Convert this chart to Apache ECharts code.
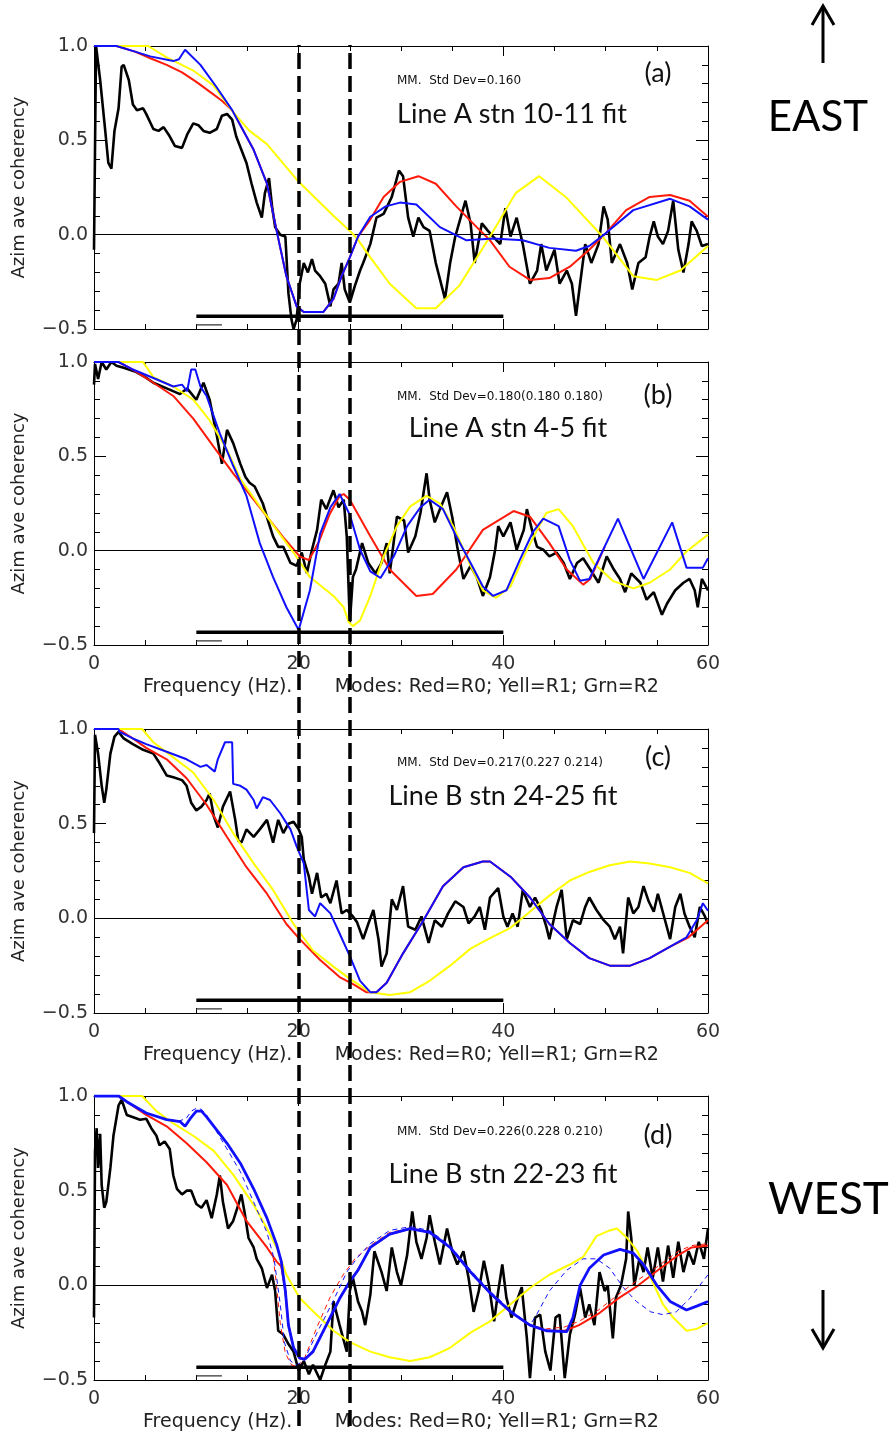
<!DOCTYPE html>
<html><head><meta charset="utf-8">
<script src="https://cdn.jsdelivr.net/npm/echarts@6/dist/echarts.min.js"></script>
<style>html,body{margin:0;padding:0;background:#fff}#c{width:891px;height:1431px}</style>
</head><body><div id="c"></div>
<script>
// ---------- DATA (frequency Hz, azimuthal average coherency) ----------
const xTicks = [0, 20, 40, 60];
const yTicks = [-0.5, 0, 0.5, 1.0];
const markerFreqs = [20, 25];
const refBarX = [10, 40];
const refBarY = -0.432;
const refShortX = [10, 12.5];
const refShortY = -0.478;

const panelTags = ['(a)', '(b)', '(c)', '(d)'];
const panelTitles = ['Line A stn 10-11 fit', 'Line A stn 4-5 fit', 'Line B stn 24-25 fit', 'Line B stn 22-23 fit'];
const panelStats = ['MM.  Std Dev=0.160', 'MM.  Std Dev=0.180(0.180 0.180)', 'MM.  Std Dev=0.217(0.227 0.214)', 'MM.  Std Dev=0.226(0.228 0.210)'];
const xAxisTitle = 'Frequency (Hz).       Modes: Red=R0; Yell=R1; Grn=R2';
const yAxisTitle = 'Azim ave coherency';

// Panel (a)
const aBlack = [[0,-0.08],[0.2,1.0],[0.35,1.0],[0.6,0.82],[1.1,0.55],[1.4,0.38],[1.7,0.35],[2.0,0.55],[2.4,0.67],[2.7,0.89],[2.9,0.90],[3.4,0.82],[3.8,0.69],[4.2,0.66],[4.8,0.67],[5.1,0.64],[5.8,0.56],[6.3,0.55],[6.8,0.57],[7.3,0.53],[7.9,0.47],[8.6,0.46],[9.1,0.53],[9.7,0.59],[10.2,0.58],[10.7,0.55],[11.3,0.54],[12.0,0.56],[12.5,0.63],[13.0,0.64],[13.5,0.61],[13.9,0.52],[14.4,0.45],[14.9,0.38],[15.4,0.27],[15.9,0.17],[16.4,0.09],[16.7,0.22],[17.1,0.30],[17.4,0.15],[17.7,0.04],[18.2,0.0],[18.7,-0.01],[19.0,-0.31],[19.3,-0.45],[19.5,-0.50],[19.8,-0.45],[20.1,-0.26],[20.5,-0.15],[20.9,-0.20],[21.3,-0.13],[21.6,-0.19],[22.1,-0.22],[22.6,-0.26],[23.1,-0.38],[23.4,-0.29],[23.9,-0.26],[24.2,-0.15],[24.5,-0.29],[25.0,-0.36],[25.5,-0.27],[26.0,-0.19],[26.3,-0.15],[27.0,-0.05],[27.6,0.09],[28.3,0.11],[29.1,0.20],[29.8,0.34],[30.2,0.31],[30.7,0.09],[31.2,-0.01],[31.7,0.09],[32.2,0.04],[32.8,0.02],[33.4,-0.15],[34.3,-0.34],[34.8,-0.15],[35.3,-0.01],[36.3,0.18],[36.8,0.06],[37.2,-0.15],[37.9,0.06],[38.5,0.02],[39.0,-0.01],[39.7,-0.05],[40.2,0.14],[40.7,-0.01],[41.3,0.09],[41.9,-0.05],[42.6,-0.26],[43.3,-0.19],[43.7,-0.05],[44.2,-0.19],[45.0,-0.08],[45.5,-0.26],[46.2,-0.19],[46.7,-0.26],[47.1,-0.43],[47.5,-0.26],[48.0,-0.05],[48.6,-0.15],[49.3,-0.05],[49.8,0.15],[50.2,0.08],[50.6,-0.15],[51.4,-0.05],[52.1,-0.15],[52.6,-0.29],[53.2,-0.15],[53.9,-0.12],[54.3,-0.01],[54.7,0.07],[55.1,-0.01],[55.6,-0.05],[56.1,0.02],[56.6,0.18],[57.1,-0.08],[57.6,-0.20],[58.1,-0.05],[58.4,0.07],[58.9,0.02],[59.4,-0.06],[60,-0.05]];
const aRed = [[0,1],[2.2,1],[4,0.97],[5.5,0.935],[7.1,0.90],[8.6,0.86],[10,0.81],[11.5,0.75],[12.5,0.71],[13.5,0.66],[14.5,0.56],[15.6,0.45],[16.9,0.27],[17.85,0.02],[18.8,-0.22],[19.8,-0.38],[20.5,-0.41],[22.4,-0.41],[23.4,-0.34],[24.2,-0.22],[25.0,-0.12],[25.8,-0.01],[27,0.08],[28.3,0.20],[29.9,0.28],[31.7,0.31],[33.4,0.27],[35.4,0.15],[37.4,0.04],[38.7,-0.03],[40.6,-0.17],[42.6,-0.24],[44.5,-0.23],[46.5,-0.17],[48.4,-0.08],[50,0.007],[52,0.13],[54.3,0.20],[56.3,0.21],[58.2,0.18],[60,0.095]];
const aYellow = [[0,1],[5.3,1],[7.1,0.94],[9.7,0.87],[11.7,0.79],[13.6,0.65],[15.2,0.55],[16.9,0.48],[20,0.28],[23.4,0.10],[25,0.02],[25.7,-0.02],[27,-0.12],[28.9,-0.26],[31.5,-0.39],[33.4,-0.39],[35.7,-0.27],[38.7,-0.01],[41.2,0.22],[43.5,0.31],[46.1,0.20],[49.7,-0.01],[52.7,-0.22],[55,-0.24],[57.3,-0.19],[60,-0.06]];
const aBlue = [[0,1.0],[2.2,1.0],[4,0.97],[5.5,0.945],[7.75,0.92],[8.3,0.93],[8.9,0.98],[10.4,0.90],[12,0.78],[13.5,0.66],[14.5,0.56],[15.6,0.45],[16.9,0.27],[17.85,0.02],[18.8,-0.22],[19.8,-0.38],[20.5,-0.41],[22.4,-0.41],[23.4,-0.34],[24.2,-0.22],[25.0,-0.12],[25.8,-0.01],[27,0.095],[28.5,0.15],[29.9,0.17],[31.5,0.16],[33.8,0.04],[36.4,-0.03],[39,-0.02],[41.9,-0.03],[44.5,-0.07],[47.1,-0.085],[48.4,-0.06],[50,0.007],[52.7,0.13],[56.3,0.19],[58.2,0.15],[60,0.08]];

// Panel (b)
const bBlack = [[0,0.88],[0.1,0.99],[0.4,0.91],[0.75,1.0],[1.2,0.96],[1.7,1.0],[2.2,0.98],[2.9,0.97],[4,0.95],[5.0,0.92],[5.8,0.89],[7.1,0.86],[8.4,0.83],[9.1,0.86],[10,0.80],[10.7,0.89],[11.3,0.80],[12,0.61],[12.5,0.46],[13,0.64],[13.6,0.57],[14.3,0.46],[14.8,0.39],[15.2,0.36],[15.7,0.34],[16.5,0.25],[17,0.16],[17.5,0.076],[18,0.02],[18.5,0.02],[19.2,-0.065],[19.8,-0.08],[20.3,-0.01],[20.8,-0.12],[21.3,0.005],[21.8,0.11],[22.2,0.27],[22.7,0.22],[23.4,0.32],[23.9,0.23],[24.4,0.27],[24.7,0.076],[25.0,-0.38],[25.3,-0.14],[25.6,-0.10],[26.2,0.04],[26.8,-0.065],[27.5,-0.12],[28.1,-0.065],[28.6,0.04],[28.9,-0.12],[29.6,0.18],[30.3,0.16],[30.7,-0.01],[31.4,0.076],[31.9,0.20],[32.5,0.41],[32.8,0.27],[33.3,0.15],[33.8,0.22],[34.5,0.31],[35,0.18],[35.5,0.02],[36.1,-0.15],[36.8,-0.08],[37.4,-0.14],[38,-0.24],[38.7,-0.14],[39.2,0.005],[39.5,0.13],[40,0.076],[40.7,0.15],[41.3,0.005],[42,0.11],[42.3,0.22],[42.8,0.11],[43.3,0.02],[43.9,0.005],[44.5,-0.03],[45.2,-0.01],[45.9,-0.065],[46.5,-0.15],[47.2,-0.065],[47.8,-0.04],[48.5,-0.10],[49.3,-0.17],[50.1,-0.03],[50.8,-0.10],[51.4,-0.15],[51.9,-0.22],[52.5,-0.12],[53.4,-0.17],[54,-0.26],[54.7,-0.22],[55.5,-0.34],[56,-0.28],[56.8,-0.21],[57.6,-0.17],[58.2,-0.15],[58.7,-0.21],[59,-0.30],[59.4,-0.15],[60,-0.21]];
const bRed = [[0,1],[2.4,1],[3.8,0.96],[5.1,0.915],[7.75,0.82],[9.7,0.70],[11.7,0.55],[13.6,0.41],[15.6,0.27],[16.9,0.18],[18.5,0.07],[20.1,-0.03],[21,-0.05],[22,0.05],[23,0.19],[24,0.29],[24.4,0.30],[25,0.27],[27,0.076],[28.9,-0.10],[31.5,-0.24],[33.1,-0.23],[35.4,-0.10],[38,0.11],[41,0.21],[42.6,0.18],[44.5,0.04],[46.2,-0.10],[47.8,-0.18],[48.5,-0.15],[49.9,0.02]];
const bYellow = [[0,1],[4.8,1],[5.8,0.92],[7.75,0.87],[9.7,0.80],[11.3,0.69],[13,0.535],[14.3,0.38],[16.2,0.235],[17.85,0.11],[19.5,-0.01],[21.1,-0.14],[23.4,-0.24],[24.4,-0.30],[24.9,-0.38],[25.3,-0.40],[26,-0.37],[27,-0.24],[28.3,-0.03],[29.6,0.13],[30.9,0.235],[32.5,0.29],[33.8,0.25],[35.1,0.13],[36.8,-0.08],[38,-0.21],[39.3,-0.25],[40.7,-0.19],[42,-0.03],[43.3,0.11],[44.2,0.20],[45.4,0.22],[46.8,0.13],[48.8,-0.065],[50.7,-0.16],[52.7,-0.20],[54.3,-0.17],[56.3,-0.10],[57.9,-0.004],[60,0.085]];
const bBlue = [[0,1],[2.4,1],[2.5,0.99],[3.8,0.96],[5.8,0.915],[7.75,0.87],[8.6,0.88],[9.1,0.845],[9.5,0.96],[9.9,0.96],[10.4,0.87],[11,0.82],[12.3,0.62],[13.6,0.45],[14.9,0.29],[16.2,0.04],[17.5,-0.14],[18.8,-0.30],[20,-0.42],[21.1,-0.21],[22.1,0.09],[23.1,0.23],[24,0.30],[25,0.19],[26,0.005],[27,-0.11],[28,-0.145],[29.3,-0.03],[30.6,0.13],[31.9,0.23],[32.8,0.27],[34.1,0.22],[35.4,0.076],[36.8,-0.065],[38,-0.19],[39,-0.24],[40.3,-0.21],[41.6,-0.05],[42.9,0.10],[43.9,0.17],[45.4,0.13],[46.5,-0.05],[47.5,-0.16],[48.4,-0.15],[51.2,0.17],[53.7,-0.15],[56.5,0.15],[57.9,-0.09],[59.5,-0.09],[60,-0.04]];

// Panel (c)
const cBlack = [[0,0.45],[0.1,0.97],[0.4,0.87],[0.75,0.70],[1.0,0.61],[1.2,0.68],[1.6,0.87],[2.0,0.96],[2.4,0.985],[2.9,0.95],[3.8,0.92],[4.8,0.89],[5.8,0.87],[6.4,0.82],[7.1,0.755],[7.75,0.745],[8.6,0.73],[9.05,0.70],[9.5,0.61],[10,0.57],[10.5,0.59],[11,0.625],[11.3,0.66],[11.7,0.54],[12.1,0.48],[12.6,0.59],[13.3,0.67],[13.8,0.52],[14.1,0.41],[14.4,0.40],[14.9,0.47],[15.6,0.43],[16.2,0.47],[16.9,0.52],[17.5,0.40],[18,0.52],[18.5,0.45],[19,0.50],[19.5,0.51],[20,0.47],[20.3,0.43],[20.5,0.31],[21,0.22],[21.3,0.13],[21.8,0.24],[22.2,0.11],[22.7,0.13],[23.1,0.08],[23.7,0.20],[24.2,0.026],[24.7,0.044],[25.3,0.01],[25.7,-0.02],[26.3,-0.11],[26.8,-0.03],[27.3,0.044],[27.8,-0.11],[28.1,-0.255],[28.6,-0.185],[29.1,0.10],[29.6,0.044],[30.2,0.17],[30.7,-0.044],[31.4,-0.06],[32,0.01],[32.7,-0.13],[33.3,-0.01],[34,-0.044],[34.6,0.026],[35.3,0.09],[36.1,0.06],[36.6,-0.026],[37.2,0.01],[37.7,0.06],[38.2,-0.06],[38.7,0.11],[39.5,0.16],[40,0.01],[40.4,-0.044],[40.9,0.026],[41.4,-0.044],[41.9,0.15],[42.6,0.06],[43.1,0.11],[43.7,0.044],[44.2,-0.044],[44.5,-0.11],[45.2,0.06],[45.7,0.15],[46.2,-0.11],[46.8,-0.01],[47.5,-0.03],[48,0.06],[48.4,0.11],[49.1,0.044],[49.8,-0.01],[50.4,-0.044],[50.9,-0.11],[51.4,-0.044],[51.7,-0.185],[52.2,0.11],[52.7,0.026],[53.2,0.06],[53.7,0.17],[54.2,0.09],[54.7,0.035],[55.1,0.13],[55.8,-0.01],[56.3,-0.11],[56.8,0.06],[57.3,0.13],[57.7,0.026],[58.2,-0.044],[58.7,-0.10],[59.2,0.06],[59.7,0.01],[60,-0.03]];
const cRed = [[0,1],[2.4,1],[3.8,0.95],[5.1,0.90],[7.1,0.84],[9.05,0.74],[11,0.60],[13,0.43],[14.9,0.27],[16.9,0.13],[18.8,-0.03],[20.1,-0.11],[22.1,-0.22],[24,-0.31],[25.4,-0.35],[26.6,-0.39],[27,-0.39],[27.6,-0.39],[28.6,-0.34],[30.2,-0.185],[32.2,-0.01],[34.1,0.17],[36.1,0.27],[38,0.30],[38.7,0.30],[40.7,0.22],[42.6,0.11],[44.5,-0.03],[46.5,-0.13],[48.4,-0.21],[50.4,-0.25],[52.4,-0.25],[54.3,-0.21],[56.3,-0.15],[58.1,-0.10],[60,-0.01]];
const cYellow = [[0,1],[4.7,1],[5.8,0.93],[7.75,0.85],[9.7,0.77],[11.7,0.625],[13.6,0.45],[15.6,0.29],[17.5,0.15],[19.5,-0.03],[21.4,-0.17],[23.4,-0.255],[25,-0.32],[27,-0.39],[28.9,-0.405],[30.9,-0.39],[32.8,-0.33],[34.8,-0.25],[36.8,-0.16],[38.7,-0.105],[40.7,-0.05],[42.6,0.035],[44.5,0.12],[46.5,0.20],[48.4,0.245],[50.4,0.28],[52.4,0.30],[54.3,0.29],[56.3,0.27],[58.2,0.24],[60,0.185]];
const cBlue = [[0,1],[2.4,1],[2.5,0.985],[3.8,0.95],[5.1,0.92],[7.1,0.88],[9.05,0.84],[10.4,0.80],[11,0.81],[11.8,0.775],[12.1,0.84],[12.8,0.93],[13.5,0.93],[13.6,0.71],[14.3,0.70],[14.9,0.68],[15.6,0.625],[15.9,0.58],[16.5,0.64],[17.2,0.625],[18.2,0.555],[19.2,0.47],[19.8,0.38],[20.5,0.29],[21,0.044],[21.6,0.01],[22.1,0.08],[23.1,0.026],[24,-0.08],[25,-0.20],[26,-0.33],[27,-0.39],[27.6,-0.39],[28.6,-0.34],[30.2,-0.185],[32.2,-0.01],[34.1,0.17],[36.1,0.27],[38,0.30],[38.7,0.30],[40.7,0.22],[42.6,0.11],[44.5,-0.03],[46.5,-0.13],[48.4,-0.21],[50.4,-0.25],[52.4,-0.25],[54.3,-0.21],[56.3,-0.15],[57.9,-0.10],[58.9,-0.01],[59.5,0.08],[60,0.04]];

// Panel (d)
const dBlack = [[0,-0.17],[0.1,0.71],[0.26,0.83],[0.4,0.62],[0.6,0.80],[0.75,0.53],[1,0.41],[1.2,0.44],[1.6,0.62],[1.9,0.79],[2.4,0.95],[2.7,0.98],[3.2,0.90],[3.7,0.89],[4.5,0.875],[5.1,0.88],[5.6,0.83],[6.1,0.79],[6.4,0.74],[6.9,0.76],[7.4,0.72],[7.75,0.58],[8.1,0.51],[8.6,0.48],[9.05,0.50],[9.5,0.50],[10,0.43],[10.5,0.41],[11,0.45],[11.5,0.355],[12,0.48],[12.3,0.58],[12.6,0.44],[13.1,0.30],[13.6,0.34],[14.1,0.425],[14.4,0.48],[14.7,0.39],[15.1,0.25],[15.6,0.20],[15.9,0.14],[16.4,0.09],[16.9,-0.014],[17.4,0.056],[17.7,-0.03],[18,-0.24],[18.5,-0.26],[19,-0.31],[19.5,-0.35],[20,-0.45],[20.5,-0.40],[21,-0.47],[21.4,-0.42],[22.1,-0.50],[22.6,-0.42],[23.1,-0.35],[23.4,-0.085],[24,-0.21],[24.7,-0.35],[25,-0.03],[25.3,0.04],[25.8,-0.085],[26.2,-0.14],[26.5,-0.21],[27,-0.05],[27.4,0.18],[28.1,0.07],[28.6,-0.03],[29.1,0.20],[29.6,0.07],[30,0.0],[30.6,0.16],[31.1,0.39],[31.5,0.23],[32,0.14],[32.5,0.25],[32.8,0.37],[33.3,0.23],[33.8,0.11],[34.5,0.30],[35,0.18],[35.5,0.11],[36.1,0.18],[36.6,0.04],[37.1,-0.14],[37.6,-0.03],[38.1,0.13],[38.6,0.0],[39.1,-0.19],[39.5,-0.03],[39.9,0.11],[40.3,-0.065],[40.8,-0.17],[41.3,-0.085],[41.8,-0.01],[42.3,-0.28],[42.6,-0.49],[43.1,-0.17],[43.6,-0.155],[44.1,-0.35],[44.6,-0.45],[45.1,-0.17],[45.5,-0.155],[46,-0.49],[46.5,-0.26],[47,-0.155],[47.5,-0.014],[48,-0.17],[48.4,-0.10],[48.9,-0.21],[49.4,0.07],[49.9,-0.03],[50.2,0.0],[50.7,-0.28],[51,-0.065],[51.5,0.0],[52,0.14],[52.2,0.39],[52.5,0.25],[52.8,0.0],[53.3,0.14],[53.7,0.07],[54.1,0.20],[54.6,0.04],[55.1,0.20],[55.6,0.02],[56.1,0.21],[56.6,0.04],[57.1,0.23],[57.6,0.07],[58.1,0.18],[58.6,0.11],[59.1,0.23],[59.6,0.14],[60,0.30]];
const dRed = [[0,1],[2.4,1],[3.2,0.97],[5.1,0.90],[7.1,0.84],[9.05,0.75],[11,0.65],[13,0.53],[14.9,0.34],[16.9,0.20],[17.85,0.125],[18.3,0.10],[18.7,-0.03],[19,-0.21],[19.5,-0.33],[20.1,-0.385],[20.6,-0.39],[21.4,-0.35],[22.7,-0.21],[24,-0.07],[25,0.02],[25.8,0.08],[27,0.20],[28.9,0.27],[30.9,0.30],[32.8,0.28],[34.8,0.20],[36.8,0.07],[38.7,-0.04],[40.7,-0.14],[42.6,-0.21],[44.2,-0.24],[46,-0.24],[47.4,-0.21],[49.3,-0.15],[51.2,-0.07],[53.2,0.0],[55.1,0.08],[57.1,0.16],[58.4,0.20],[60,0.21]];
const dRedAlt = [[0,1],[2.4,1],[5.1,0.90],[7.1,0.84],[9.05,0.75],[11,0.65],[13,0.53],[14.9,0.34],[16.9,0.20],[17.5,0.15],[17.8,0.02],[18.2,-0.20],[18.7,-0.36],[19.3,-0.42],[19.9,-0.43],[20.6,-0.38],[21.8,-0.22],[23.1,-0.06],[24.4,0.06],[25.5,0.14],[27,0.21],[28.9,0.28],[30.9,0.30],[32.8,0.28],[34.8,0.20],[36.8,0.07],[38.7,-0.04],[40.7,-0.14],[42.6,-0.21],[44.2,-0.23],[46,-0.22],[47.4,-0.19],[49.3,-0.13],[51.2,-0.05],[53.2,0.03],[55.1,0.10],[57.1,0.18],[58.4,0.21],[60,0.22]];
const dYellow = [[0,1],[4.7,1],[6.1,0.92],[7.75,0.855],[9.7,0.79],[11.7,0.71],[13.6,0.585],[15.6,0.425],[16.9,0.30],[17.85,0.20],[18.8,0.056],[20.1,-0.067],[21.4,-0.137],[23.4,-0.24],[25,-0.30],[25.8,-0.32],[27,-0.35],[28.9,-0.38],[30.9,-0.40],[32.8,-0.38],[34.8,-0.33],[36.8,-0.25],[38.7,-0.19],[40.7,-0.10],[42.6,-0.014],[44.5,0.056],[46.5,0.11],[47.8,0.15],[49.1,0.26],[50.4,0.29],[51.1,0.30],[52.1,0.25],[53.1,0.18],[54.4,0.04],[55.6,-0.10],[56.6,-0.17],[57.9,-0.24],[58.9,-0.23],[60,-0.20]];
const dBlue = [[0,1],[2.4,1],[3.2,0.97],[5.1,0.91],[7.1,0.875],[8.4,0.865],[8.9,0.84],[9.4,0.88],[10,0.92],[10.5,0.92],[11,0.89],[12,0.82],[13,0.75],[14.3,0.645],[15.6,0.51],[16.9,0.355],[17.85,0.215],[18.3,0.127],[18.7,-0.03],[19,-0.21],[19.5,-0.33],[20.1,-0.385],[20.6,-0.39],[21.4,-0.35],[22.7,-0.21],[24,-0.07],[25,0.02],[25.8,0.08],[27,0.20],[28.9,0.27],[30.9,0.30],[32.8,0.28],[34.8,0.20],[36.8,0.07],[38.7,-0.04],[40.7,-0.14],[42.6,-0.21],[44.2,-0.24],[46.2,-0.245],[46.8,-0.17],[47.5,0.0],[48.4,0.09],[49.8,0.16],[51.4,0.19],[52.7,0.17],[53.7,0.11],[55,0.0],[56.3,-0.085],[57.9,-0.13],[58.9,-0.11],[60,-0.085]];
const dBlueAlt = [[0,1],[2.4,1],[5.1,0.91],[7.1,0.875],[8.4,0.87],[9,0.88],[9.5,0.92],[10,0.935],[10.5,0.93],[11,0.90],[12,0.81],[13,0.72],[14.3,0.60],[15.6,0.44],[16.9,0.28],[17.6,0.14],[18.2,-0.10],[18.6,-0.30],[19.2,-0.40],[19.8,-0.42],[20.5,-0.40],[21.8,-0.25],[23.4,-0.08],[24.7,0.07],[25.8,0.15],[27,0.22],[28.9,0.29],[30.9,0.31],[32.8,0.29],[34.8,0.21],[36.8,0.08],[38.7,-0.03],[40.7,-0.13],[42.6,-0.21],[43.2,-0.16],[44.5,-0.03],[46.2,0.08],[47.8,0.14],[49.1,0.14],[50.4,0.09],[51.7,-0.01],[53,-0.085],[54.4,-0.14],[55.6,-0.155],[56.9,-0.14],[58.2,-0.07],[60,0.056]];

// ---------- LAYOUT / STYLE ----------
const panelData = [
  {black:aBlack, red:aRed, yellow:aYellow, blue:aBlue},
  {black:bBlack, red:bRed, yellow:bYellow, blue:bBlue},
  {black:cBlack, red:cRed, yellow:cYellow, blue:cBlue},
  {black:dBlack, red:dRed, yellow:dYellow, blue:dBlue, redAlt:dRedAlt, blueAlt:dBlueAlt}
];
const layout = [
  {top:46,  height:283, xLabels:false, tagY:73,   statY:81,   titleX:512, titleY:114,  blueW:2},
  {top:362, height:283, xLabels:true,  tagY:395,  statY:397,  titleX:508, titleY:428,  blueW:2},
  {top:729, height:284, xLabels:true,  tagY:757,  statY:763,  titleX:503, titleY:796,  blueW:2},
  {top:1096,height:284, xLabels:true,  tagY:1135, statY:1132, titleX:503, titleY:1174, blueW:2.8}
];
const GL = 94, GR = 183;
const hershey = 'DejaVu Sans';
const RED = '#ff1a0a', YEL = '#ffff00', BLU = '#1010ff', BLK = '#000';

const grids = [], xAxes = [], yAxes = [], series = [], graphics = [];
const fmtY = v => (v < 0 ? '\u2212' : '') + Math.abs(v).toFixed(1);

layout.forEach((p, i) => {
  grids.push({left:GL, right:GR, top:p.top, height:p.height, containLabel:false, outerBoundsMode:'none'});
  const common = {type:'value', gridIndex:i, min:0, max:60, interval:20,
    axisLine:{show:true, onZero:false, lineStyle:{color:BLK, width:1}},
    axisTick:{show:true, inside:true, length:10, lineStyle:{color:BLK, width:1}},
    minorTick:{show:true, splitNumber:4, length:5, lineStyle:{color:BLK, width:1}},
    splitLine:{show:false}, minorSplitLine:{show:false}};
  const xb = xAxes.length;
  xAxes.push(Object.assign({}, common, {position:'bottom',
    axisLabel:{show:p.xLabels, fontFamily:hershey, fontSize:19, color:'#333', margin:10,
      customValues: xTicks},
    name: p.xLabels ? xAxisTitle : '', nameLocation:'middle', nameGap:33,
    nameTextStyle:{fontFamily:hershey, fontSize:19, color:'#222'}}));
  xAxes.push(Object.assign({}, common, {position:'top', axisLabel:{show:false}}));
  const ycommon = {type:'value', gridIndex:i, min:-0.5, max:1.0, interval:0.5,
    axisLine:{show:true, onZero:false, lineStyle:{color:BLK, width:1}},
    axisTick:{show:true, inside:true, length:12, lineStyle:{color:BLK, width:1}},
    minorTick:{show:true, splitNumber:5, length:6, lineStyle:{color:BLK, width:1}},
    splitLine:{show:false}, minorSplitLine:{show:false}};
  const yl = yAxes.length;
  yAxes.push(Object.assign({}, ycommon, {position:'left',
    axisLabel:{show:true, fontFamily:hershey, fontSize:19, color:'#333', margin:6, formatter:fmtY},
    name:yAxisTitle, nameLocation:'middle', nameGap:66,
    nameTextStyle:{fontFamily:hershey, fontSize:18, color:'#222'}}));
  yAxes.push(Object.assign({}, ycommon, {position:'right', axisLabel:{show:false}}));

  const d = panelData[i];
  const base = {type:'line', xAxisIndex:xb, yAxisIndex:yl, showSymbol:false, symbol:'none',
    silent:true, animation:false};
  series.push(Object.assign({}, base, {name:'data'+i, data:d.black, z:2,
    lineStyle:{color:BLK, width:2.6},
    markLine:{silent:true, symbol:['none','none'], label:{show:false},
      lineStyle:{color:BLK, width:1, type:'solid'}, data:[{yAxis:0}]}}));
  series.push(Object.assign({}, base, {name:'bar'+i, z:3,
    data:refBarX.map(x => [x, refBarY]), lineStyle:{color:BLK, width:3.5}}));
  series.push(Object.assign({}, base, {name:'bar2'+i, z:3,
    data:refShortX.map(x => [x, refShortY]), lineStyle:{color:'#333', width:1.3}}));
  series.push(Object.assign({}, base, {name:'R0_'+i, data:d.red, z:4, lineStyle:{color:RED, width:2}}));
  if (d.redAlt) series.push(Object.assign({}, base, {name:'R0alt', data:d.redAlt, z:4,
    lineStyle:{color:RED, width:1, type:[5,4]}}));
  series.push(Object.assign({}, base, {name:'R1_'+i, data:d.yellow, z:5, lineStyle:{color:YEL, width:2}}));
  if (d.blueAlt) series.push(Object.assign({}, base, {name:'Balt', data:d.blueAlt, z:6,
    lineStyle:{color:BLU, width:1, type:[5,4]}}));
  series.push(Object.assign({}, base, {name:'B_'+i, data:d.blue, z:6, lineStyle:{color:BLU, width:p.blueW}}));

  graphics.push({type:'text', x:658, y:p.tagY, z:20, style:{text:panelTags[i], fontFamily:'Lato',
    fontSize:27, fill:'#111', align:'center', verticalAlign:'middle'}});
  graphics.push({type:'text', x:397, y:p.statY, z:20, style:{text:panelStats[i], fontFamily:hershey,
    fontSize:12, fill:'#111', align:'left', verticalAlign:'middle'}});
  graphics.push({type:'text', x:p.titleX, y:p.titleY, z:20, style:{text:panelTitles[i], fontFamily:'Lato',
    fontSize:27, fill:'#111', align:'center', verticalAlign:'middle'}});
});

// overlay grid for the two vertical dashed reference frequencies
grids.push({left:GL, right:GR, top:45, bottom:5, containLabel:false, outerBoundsMode:'none'});
const ox = xAxes.length, oy = yAxes.length;
xAxes.push({type:'value', gridIndex:4, min:0, max:60, show:false});
yAxes.push({type:'value', gridIndex:4, min:0, max:1, show:false});
series.push({type:'line', xAxisIndex:ox, yAxisIndex:oy, data:[[0,0]], showSymbol:false, symbol:'none',
  lineStyle:{opacity:0}, silent:true, z:30,
  markLine:{silent:true, symbol:['none','none'], label:{show:false}, z:30,
    lineStyle:{color:BLK, width:3.5, type:[16,7]},
    data:markerFreqs.map(f => ({xAxis:f}))}});

// direction annotations
graphics.push({type:'line', shape:{x1:823, y1:8, x2:823, y2:63}, style:{stroke:'#000', lineWidth:3}});
graphics.push({type:'polyline', shape:{points:[[812,25],[823,6],[834,25]]}, style:{stroke:'#000', lineWidth:3, fill:null}});
graphics.push({type:'text', x:818, y:117, style:{text:'EAST', fontFamily:'Lato', fontSize:42, fill:'#000', align:'center', verticalAlign:'middle'}});
graphics.push({type:'text', x:768, y:1200, style:{text:'WEST', fontFamily:'Lato', fontSize:44, fill:'#000', align:'left', verticalAlign:'middle'}});
graphics.push({type:'line', shape:{x1:823, y1:1290, x2:823, y2:1345}, style:{stroke:'#000', lineWidth:3}});
graphics.push({type:'polyline', shape:{points:[[812,1329],[823,1348],[834,1329]]}, style:{stroke:'#000', lineWidth:3, fill:null}});

const chart = echarts.init(document.getElementById('c'), null, {renderer:'canvas'});
chart.setOption({
  animation:false, backgroundColor:'#fff',
  grid:grids, xAxis:xAxes, yAxis:yAxes, series:series, graphic:graphics
});
</script></body></html>
